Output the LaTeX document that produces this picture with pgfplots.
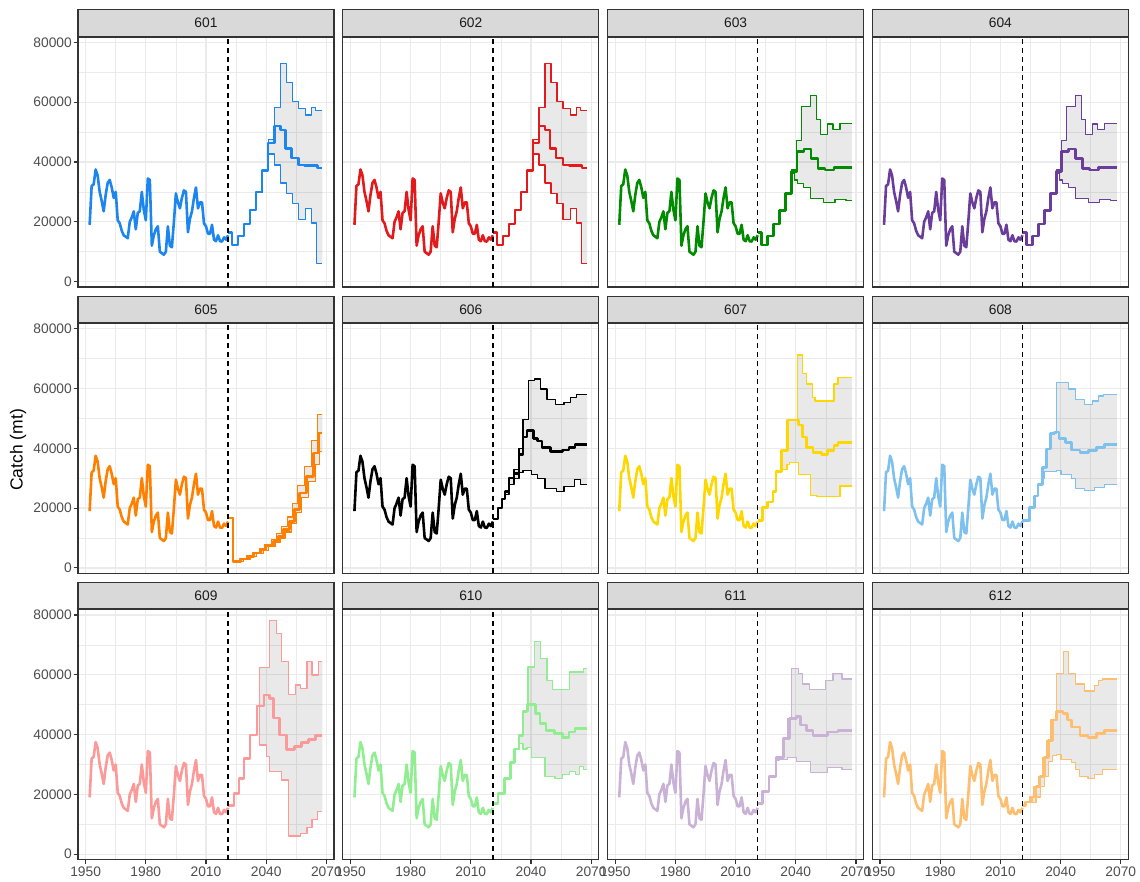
\documentclass[border=0pt]{standalone}
\usepackage{pgfplots}
\pgfplotsset{compat=1.18}
\usepackage{pgfplotstable}
\usepgfplotslibrary{fillbetween}
\usepackage{fontspec}
\setmainfont{Liberation Sans}
\definecolor{c601}{HTML}{1C86EE}
\definecolor{c602}{HTML}{E31A1C}
\definecolor{c603}{HTML}{008B00}
\definecolor{c604}{HTML}{6A3D9A}
\definecolor{c605}{HTML}{FF7F00}
\definecolor{c606}{HTML}{000000}
\definecolor{c607}{HTML}{FFD700}
\definecolor{c608}{HTML}{7EC0EE}
\definecolor{c609}{HTML}{FB9A99}
\definecolor{c610}{HTML}{90EE90}
\definecolor{c611}{HTML}{CAB2D6}
\definecolor{c612}{HTML}{FDBF6F}
\definecolor{gray92}{HTML}{EBEBEB}
\definecolor{gray85}{HTML}{D9D9D9}
\definecolor{gray20}{HTML}{333333}
\definecolor{gray30}{HTML}{4D4D4D}
\definecolor{gray10}{HTML}{1A1A1A}

\pgfplotstableread{
year catch
1952 19000
1953 32000
1954 32500
1955 37500
1956 35500
1957 30000
1958 27000
1959 23500
1960 29000
1961 33000
1962 34000
1963 31500
1964 28000
1965 30000
1966 20500
1967 19500
1968 17000
1969 15500
1970 15000
1971 14500
1972 20000
1973 21500
1974 23500
1975 17500
1976 23000
1977 23500
1978 30000
1979 24000
1980 20500
1981 34500
1982 34000
1983 12000
1984 15500
1985 17500
1986 18500
1987 10000
1988 9500
1989 9000
1990 10000
1991 18500
1992 12000
1993 11500
1994 20000
1995 29500
1996 26500
1997 24500
1998 28000
1999 30500
2000 30000
2001 16500
2002 21000
2003 23500
2004 28000
2005 31500
2006 24500
2007 26500
2008 26500
2009 19500
2010 18500
2011 16000
2012 16000
2013 19000
2014 14000
2015 13500
2016 15500
2017 13500
2018 13400
2019 14800
2020 14000
2021 15500
}\hist

\pgfplotsset{
  panel/.style={
    scale only axis, width=256pt, height=250pt, anchor=north west,
    xmin=1946.2, xmax=2073.8, ymin=-1800, ymax=81800,
    xtick={1950,1980,2010,2040,2070}, minor xtick={1965,1995,2025,2055},
    ytick={0,20000,40000,60000,80000}, minor ytick={10000,30000,50000,70000},
    xticklabels={}, yticklabels={},
    xtick pos=bottom, ytick pos=left,
    grid=both,
    major grid style={draw=gray92, line width=1.3pt},
    minor grid style={draw=gray92, line width=0.7pt},
    axis line style={draw=gray20, line width=1.1pt},
    tick align=outside, major tick length=4pt, minor tick length=0pt,
    xtick style={draw=none}, ytick style={draw=none},
    tick label style={font=\fontsize{13.8}{16}\selectfont, text=gray30},
    yticklabel style={anchor=east, inner sep=2pt},
    xticklabel style={anchor=north, inner sep=3pt},
    title style={at={(0.5,1)}, anchor=south, yshift=-6pt, fill=gray85, draw=gray20,
      line width=1.1pt, minimum width=256pt, minimum height=26.5pt, inner sep=0pt,
      text=gray10, font=\fontsize{13.8}{16}\selectfont},
  },
  yt/.style={yticklabels={0,20000,40000,60000,80000}, ytick style={draw=gray20,line width=1.1pt}},
  xt/.style={xticklabels={1950,1980,2010,2040,2070}, xtick style={draw=gray20,line width=1.1pt}},
}

\newcommand{\panel}[7]{%
\begin{axis}[panel,at={#1},title={#2},#4]
\addplot[const plot,draw=none,name path=up] coordinates {#6};
\addplot[const plot,draw=none,name path=lo] coordinates {#7};
\addplot[fill=black,fill opacity=0.085,draw=none] fill between[of=up and lo];
\addplot[const plot,color=#3,line width=1.2pt,line join=round] coordinates {#6};
\addplot[const plot,color=#3,line width=1.2pt,line join=round] coordinates {#7};
\addplot[color=#3,line width=2.6pt,line join=round] table[x=year,y=catch] {\hist};
\addplot[const plot,color=#3,line width=2.6pt,line join=round] coordinates {#5};
\addplot[black,line width=1.3pt,dash pattern=on 5pt off 4pt] coordinates {(2021,-1800)(2021,81800)};
\end{axis}}

\begin{document}
\begin{tikzpicture}
\path (0pt,0pt) rectangle (1140pt,882pt);
\node[rotate=90,font=\fontsize{17.5}{20}\selectfont] at (18pt,432pt) {Catch (mt)};

% row 1
\panel{(78pt,845pt)}{601}{c601}{yt}
{(2021,16400)(2023,12300)(2026,15300)(2029,19200)(2032,24000)(2035,29900)(2038,37100)(2041,46300)(2044,52000)(2047,50700)(2049.5,44600)(2052.5,41300)(2056,39000)(2059,38800)(2065.5,38000)(2068,38000)}
{(2035,29900)(2038,37100)(2041,47500)(2044,58300)(2047,73000)(2050,66600)(2053,60200)(2056,58000)(2059.5,55700)(2062.5,58300)(2064.5,57200)(2068,57200)}
{(2035,29900)(2038,37100)(2041,42700)(2044,39000)(2047,33000)(2050,29500)(2053,26200)(2056,20800)(2059.5,24500)(2062.5,19600)(2065,6000)(2068,6000)}
\panel{(342.8pt,845pt)}{602}{c602}{}
{(2021,16400)(2023,12300)(2026,15300)(2029,19200)(2032,24000)(2035,29900)(2038,37100)(2041,46300)(2044,52000)(2047,50700)(2049.5,44600)(2052.5,41300)(2056,39000)(2059,38800)(2065.5,38000)(2068,38000)}
{(2035,29900)(2038,37100)(2041,47500)(2044,58300)(2047,73000)(2050,66600)(2053,60200)(2056,58000)(2059.5,55700)(2062.5,58300)(2064.5,57200)(2068,57200)}
{(2035,29900)(2038,37100)(2041,42700)(2044,39000)(2047,33000)(2050,29500)(2053,26200)(2056,20800)(2059.5,24500)(2062.5,19600)(2065,6000)(2068,6000)}
\panel{(607.6pt,845pt)}{603}{c603}{}
{(2021,16400)(2023,12300)(2026,15300)(2029,19200)(2032,23700)(2035,29500)(2038,36800)(2040.5,43500)(2044,44400)(2047.5,41200)(2051,37900)(2054.5,37300)(2059,38200)(2068,38200)}
{(2035,29500)(2038,37300)(2040.5,47200)(2043,58500)(2047.5,62100)(2050.5,54100)(2052.5,49300)(2056,52700)(2058.5,50900)(2062,53000)(2068,53000)}
{(2035,29500)(2038,36300)(2039.5,34000)(2041,32900)(2044,31500)(2047.5,27900)(2054,26400)(2059.5,27500)(2065,27000)(2068,27000)}
\panel{(872.4pt,845pt)}{604}{c604}{}
{(2021,16400)(2023,12300)(2026,15300)(2029,19200)(2032,23700)(2035,29500)(2038,36800)(2040.5,43500)(2044,44400)(2047.5,41200)(2051,37900)(2054.5,37300)(2059,38200)(2068,38200)}
{(2035,29500)(2038,37300)(2040.5,47200)(2043,58500)(2047.5,62100)(2050.5,54100)(2052.5,49300)(2056,52700)(2058.5,50900)(2062,53000)(2068,53000)}
{(2035,29500)(2038,36300)(2039.5,34000)(2041,32900)(2044,31500)(2047.5,27900)(2054,26400)(2059.5,27500)(2065,27000)(2068,27000)}

% row 2
\panel{(78pt,558.7pt)}{605}{c605}{yt}
{(2021,16700)(2023.5,2200)(2027.5,3000)(2031,3900)(2034,5000)(2037.5,6100)(2040,7500)(2043.5,8900)(2046,10600)(2048.5,12800)(2051.5,15600)(2054,19500)(2056.5,25000)(2060,30600)(2063.5,38400)(2066,45100)(2068,45100)}
{(2021,16700)(2023.5,2200)(2026.5,3000)(2030,4000)(2033,5100)(2036.5,6300)(2039,7800)(2042.5,9500)(2045,11400)(2047.5,13800)(2050.5,17000)(2053,21500)(2055.5,27500)(2059,34000)(2062.5,42500)(2065.5,51300)(2068,51300)}
{(2021,16700)(2023.5,2200)(2028.5,3000)(2032,3800)(2035,4800)(2038.5,5900)(2041,7200)(2044.5,8500)(2047,10000)(2049.5,12000)(2052.5,14800)(2055,18500)(2057.5,23500)(2061,29000)(2064.5,34500)(2066.5,39000)(2068,39000)}
\panel{(342.8pt,558.7pt)}{606}{c606}{}
{(2021,16300)(2023.5,20000)(2025.6,23000)(2027,25500)(2029,30000)(2031.5,31500)(2034,38000)(2036,43800)(2038,46000)(2041.2,43200)(2043.3,42500)(2045.4,40300)(2049.6,39000)(2055.8,39400)(2059,40200)(2062,41300)(2068,41300)}
{(2027,25500)(2029,30000)(2031.5,33000)(2034,40000)(2036,49500)(2038.7,62600)(2041.9,63200)(2044.9,59800)(2048,56300)(2052.2,54600)(2056.5,55400)(2059.5,56900)(2062.5,58100)(2068,58100)}
{(2027,24500)(2029,28000)(2031.5,30000)(2034,32000)(2036,32700)(2040.2,31200)(2043.3,29800)(2047,26600)(2052.7,25500)(2056.5,27200)(2061.7,29500)(2064.8,28000)(2068,28000)}
\panel{(607.6pt,558.7pt)}{607}{c607}{}
{(2021,15800)(2023.5,20300)(2026,22000)(2028.7,25500)(2030.2,32300)(2033,39200)(2036,49500)(2041.2,47800)(2043.3,43800)(2045.4,40300)(2048.5,38600)(2052.7,38000)(2055.8,39200)(2059,40900)(2061,42000)(2068,42000)}
{(2030.2,32300)(2033,39200)(2036,49500)(2041,71200)(2043.5,64900)(2045.4,61500)(2048.5,56900)(2049.6,55800)(2059,61500)(2061,63800)(2068,63800)}
{(2030.2,32300)(2032.3,32900)(2035.6,34600)(2037,35200)(2041.2,31200)(2047.5,24300)(2050.6,23800)(2062,27400)(2068,27400)}
\panel{(872.4pt,558.7pt)}{608}{c608}{}
{(2021,15800)(2024.5,20300)(2027,24000)(2028.7,27800)(2031,33500)(2033,39800)(2035,44900)(2037,45500)(2039.2,43200)(2042.3,42000)(2045.4,39400)(2049.6,38600)(2054,39200)(2058,40300)(2062,41300)(2068,41300)}
{(2028.7,27800)(2031,33500)(2033,39800)(2035,44900)(2038,62000)(2044,59800)(2047.5,56300)(2052,54600)(2056,55800)(2059,57500)(2061.5,58100)(2068,58100)}
{(2028.7,27800)(2031,30000)(2032,32300)(2038,32600)(2040.2,31200)(2045.4,29800)(2047.5,26600)(2052,25800)(2057,26900)(2062,28000)(2068,28000)}

% row 3
\panel{(78pt,272.4pt)}{609}{c609}{yt,xt}
{(2021,16200)(2024,20400)(2026.5,25400)(2029,32000)(2032,39900)(2035.5,49600)(2039,53300)(2041.5,52100)(2043.5,45500)(2046.5,39900)(2050,35000)(2054,36000)(2057.5,37300)(2061,38400)(2064.5,39700)(2068,39700)}
{(2032,39900)(2035.5,49600)(2036.5,62500)(2041.7,78100)(2045,73900)(2047.8,64400)(2051,53300)(2054.5,56600)(2057,55500)(2060.3,64400)(2062.8,59900)(2066,64400)(2068,64400)}
{(2032,39900)(2035.5,49600)(2036.5,36500)(2040,32600)(2041.5,27600)(2047.5,24800)(2051,6100)(2057,7000)(2060.3,9000)(2062.8,11500)(2065.5,14300)(2068,14300)}
\panel{(342.8pt,272.4pt)}{610}{c610}{xt}
{(2021,16900)(2023.5,20300)(2026.7,25400)(2029.8,30600)(2031.9,35200)(2034,39700)(2036,47700)(2038.1,50000)(2042.3,47100)(2044.4,43700)(2047.5,41400)(2051.7,40300)(2055.8,39100)(2059,40900)(2062,42000)(2068,42000)}
{(2031.9,35200)(2034,39700)(2036,47700)(2038.5,62600)(2041.9,71100)(2044.9,65400)(2048,58000)(2050.6,55100)(2059,60900)(2066,62000)(2068,62000)}
{(2031.9,35200)(2034,37000)(2036,35200)(2038,35700)(2040.2,32300)(2047,26000)(2052,25400)(2055.8,26600)(2059,27700)(2062,26600)(2064,29400)(2066,28300)(2068,28300)}
\panel{(607.6pt,272.4pt)}{611}{c611}{xt}
{(2021,16900)(2023.5,20900)(2026.7,26000)(2030.2,32300)(2034,38600)(2037,45400)(2040.2,46000)(2042.3,43200)(2045.4,41400)(2048.5,39700)(2055.8,40900)(2061,41400)(2068,41400)}
{(2030.2,32300)(2034,38600)(2036,45400)(2038,62000)(2041.5,60300)(2043.5,56900)(2047,55100)(2055,58000)(2058.5,60300)(2063,58600)(2068,58600)}
{(2030.2,31500)(2032,31700)(2036,32300)(2040.2,31100)(2047.5,27200)(2056,28900)(2063,28300)(2068,28300)}
\panel{(872.4pt,272.4pt)}{612}{c612}{xt}
{(2021,16300)(2022.5,17400)(2025.6,19100)(2027.7,22600)(2029.8,26000)(2031.9,32300)(2034,38000)(2036,44900)(2038.1,47700)(2041.2,47100)(2043.3,44900)(2045.4,42600)(2049.6,39700)(2053.7,39100)(2058,40300)(2062,41400)(2068,41400)}
{(2022.5,17400)(2024.6,19100)(2026.7,22600)(2028.8,26000)(2030.9,32300)(2033,38000)(2035,44900)(2038,60300)(2041.3,67700)(2044,60300)(2047.5,56900)(2052,54600)(2057,56300)(2059,58000)(2061,58600)(2068,58600)}
{(2022.5,17400)(2025.6,17400)(2027.7,19100)(2029.8,22600)(2031.9,26000)(2034,31000)(2036,33000)(2038.1,33400)(2040.2,31700)(2045.4,30600)(2047.5,28300)(2049.6,26000)(2053.7,25400)(2057,26600)(2061,28300)(2068,28300)}
\end{tikzpicture}
\end{document}
